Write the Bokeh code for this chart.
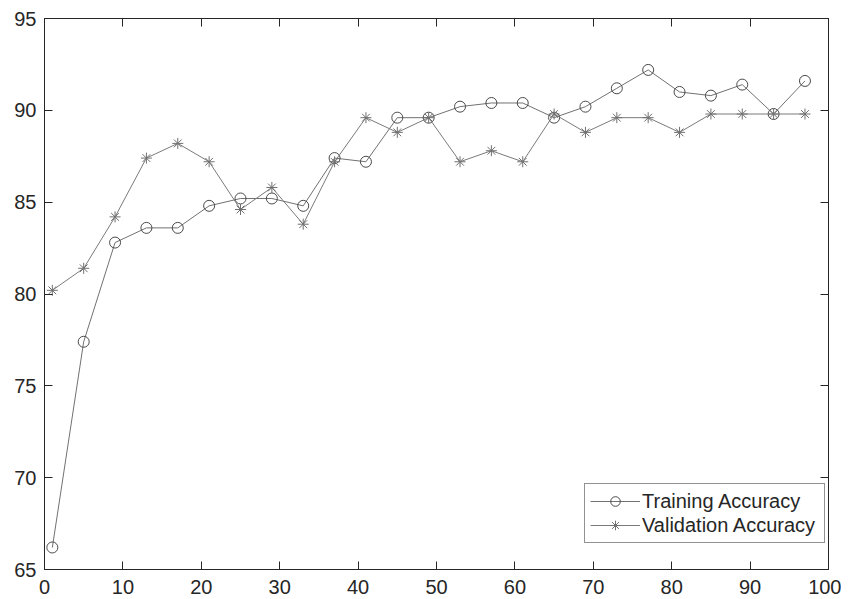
from bokeh.plotting import figure
from bokeh.models import Range1d, FixedTicker, LinearAxis, Legend, LegendItem
from bokeh.embed import file_html
from bokeh.resources import INLINE

epochs = [1, 5, 9, 13, 17, 21, 25, 29, 33, 37, 41, 45, 49,
          53, 57, 61, 65, 69, 73, 77, 81, 85, 89, 93, 97]
training_acc = [66.2, 77.4, 82.8, 83.6, 83.6, 84.8, 85.2, 85.2, 84.8, 87.4, 87.2, 89.6, 89.6,
                90.2, 90.4, 90.4, 89.6, 90.2, 91.2, 92.2, 91.0, 90.8, 91.4, 89.8, 91.6]
validation_acc = [80.2, 81.4, 84.2, 87.4, 88.2, 87.2, 84.6, 85.8, 83.8, 87.2, 89.6, 88.8, 89.6,
                  87.2, 87.8, 87.2, 89.8, 88.8, 89.6, 89.6, 88.8, 89.8, 89.8, 89.8, 89.8]
x_ticks = [0, 10, 20, 30, 40, 50, 60, 70, 80, 90, 100]
y_ticks = [65, 70, 75, 80, 85, 90, 95]
series_names = ["Training Accuracy", "Validation Accuracy"]

FONT = "Liberation Sans"
AX = "#262626"

p = figure(frame_width=784, frame_height=551,
           x_range=Range1d(x_ticks[0], x_ticks[-1]), y_range=Range1d(y_ticks[0], y_ticks[-1]),
           output_backend="svg", toolbar_location=None,
           min_border_left=44, min_border_right=13, min_border_top=18, min_border_bottom=30,
           x_axis_location=None, y_axis_location=None)
p.background_fill_color = "white"
p.border_fill_color = "white"
p.outline_line_color = AX
p.outline_line_width = 1
p.xgrid.visible = False
p.ygrid.visible = False


def style_axis(ax, ticks, standoff, labels=True):
    ax.ticker = FixedTicker(ticks=ticks)
    ax.axis_line_color = AX
    ax.axis_line_width = 1
    ax.major_tick_line_color = AX
    ax.major_tick_line_width = 1
    ax.major_tick_in = 8
    ax.major_tick_out = 0
    ax.minor_tick_line_color = None
    ax.major_label_text_font = FONT
    ax.major_label_standoff = standoff
    if labels:
        ax.major_label_text_color = AX
        ax.major_label_text_font_size = "20px"
    else:
        # box edge with inward ticks only; no tick labels drawn
        ax.major_label_text_color = None
        ax.major_label_text_font_size = "1px"


xb = LinearAxis()
style_axis(xb, x_ticks, 10)
p.add_layout(xb, "below")
yl = LinearAxis()
style_axis(yl, y_ticks, 8)
p.add_layout(yl, "left")
xt = LinearAxis()
style_axis(xt, x_ticks, 0, labels=False)
p.add_layout(xt, "above")
yr = LinearAxis()
style_axis(yr, y_ticks, 0, labels=False)
p.add_layout(yr, "right")

l1 = p.line(epochs, training_acc, line_color="#717171", line_width=1)
m1 = p.scatter(epochs, training_acc, marker="circle", size=11, fill_color=None,
               line_color="#4a4a4a", line_width=1)
l2 = p.line(epochs, validation_acc, line_color="#7a7a7a", line_width=1)
m2 = p.scatter(epochs, validation_acc, marker="asterisk", size=11,
               line_color="#707070", line_width=1)

legend = Legend(items=[LegendItem(label=series_names[0], renderers=[l1, m1]),
                       LegendItem(label=series_names[1], renderers=[l2, m2])],
                location=(540, 26))
legend.label_text_font = FONT
legend.label_text_font_size = "20px"
legend.label_text_color = AX
legend.glyph_width = 50
legend.glyph_height = 24
legend.label_height = 24
legend.label_width = 177
legend.label_standoff = 2
legend.spacing = 0
legend.padding = 5
legend.margin = 0
legend.border_line_color = AX
legend.border_line_width = 1
legend.background_fill_color = "white"
legend.background_fill_alpha = 1
p.add_layout(legend, "center")

open("out.html", "w").write(file_html(p, INLINE))
